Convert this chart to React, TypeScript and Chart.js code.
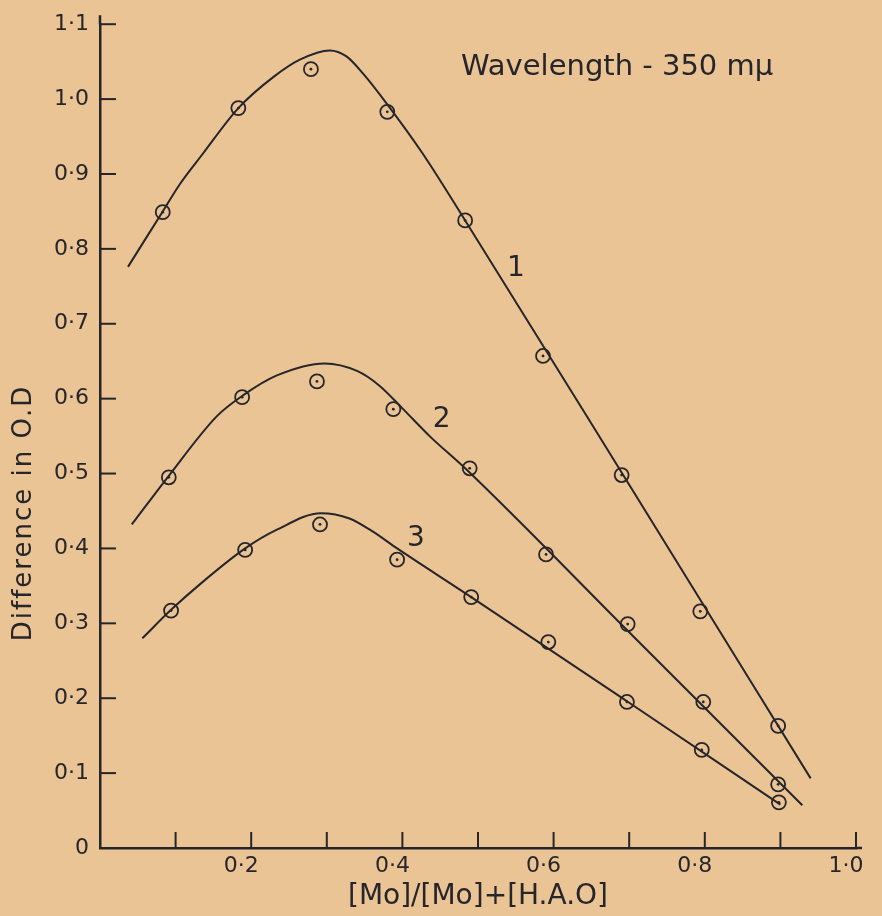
import { useEffect, useRef } from 'react';
import { Chart, registerables } from 'chart.js';

Chart.register(...registerables);

// ---- data ----
const yTickLabels = ['0', '0·1', '0·2', '0·3', '0·4', '0·5', '0·6', '0·7', '0·8', '0·9', '1·0', '1·1'];
const xTickLabels = ['0·2', '0·4', '0·6', '0·8', '1·0'];

// measured points (circles)
const pts1X = [0.083, 0.183, 0.279, 0.380, 0.483, 0.586, 0.690, 0.794, 0.897];
const pts1Y = [0.849, 0.988, 1.040, 0.983, 0.838, 0.657, 0.498, 0.316, 0.163];
const pts2X = [0.091, 0.188, 0.287, 0.388, 0.489, 0.590, 0.698, 0.798, 0.897];
const pts2Y = [0.495, 0.602, 0.623, 0.586, 0.507, 0.392, 0.299, 0.195, 0.085];
const pts3X = [0.094, 0.192, 0.291, 0.393, 0.491, 0.593, 0.697, 0.796, 0.898];
const pts3Y = [0.317, 0.398, 0.432, 0.385, 0.335, 0.275, 0.195, 0.131, 0.061];

// hand-drawn fitted curves
const fit1X = [0.037, 0.083, 0.106, 0.136, 0.183, 0.23, 0.265, 0.304, 0.326, 0.348, 0.38, 0.427, 0.483, 0.7, 0.94];
const fit1Y = [0.776, 0.85, 0.887, 0.927, 0.988, 1.03, 1.053, 1.065, 1.057, 1.034, 0.993, 0.927, 0.838, 0.485, 0.093];
const fit2X = [0.042, 0.091, 0.155, 0.19, 0.234, 0.297, 0.34, 0.37, 0.4, 0.437, 0.483, 0.7, 0.929];
const fit2Y = [0.432, 0.497, 0.577, 0.605, 0.631, 0.647, 0.637, 0.617, 0.587, 0.549, 0.507, 0.288, 0.057];
const fit3X = [0.056, 0.094, 0.132, 0.192, 0.234, 0.292, 0.33, 0.36, 0.393, 0.491, 0.7, 0.9];
const fit3Y = [0.28, 0.318, 0.352, 0.4, 0.425, 0.447, 0.44, 0.423, 0.40, 0.335, 0.194, 0.058];

// annotations (in data coordinates)
const noteTexts = ['1', '2', '3', 'Wavelength - 350 mμ'];
const noteX = [0.55, 0.452, 0.418, 0.684];
const noteY = [0.774, 0.572, 0.413, 1.042];

const xTitle = '[Mo]/[Mo]+[H.A.O]';
const yTitle = 'Difference in O.D';

const INK = '#26252a';
const PAPER = '#eac494';
const FONT = '"DejaVu Sans", sans-serif';

const toXY = (xs: number[], ys: number[]) => xs.map((x, i) => ({ x, y: ys[i] }));

const paperPlugin = {
  id: 'paper',
  beforeDraw(chart: any) {
    const { ctx, width, height } = chart;
    ctx.save();
    ctx.fillStyle = PAPER;
    ctx.fillRect(0, 0, width, height);
    ctx.restore();
  },
  afterDraw(chart: any) {
    const { ctx } = chart;
    const xs = chart.scales.x;
    const ys = chart.scales.y;
    ctx.save();
    ctx.strokeStyle = INK;
    const y0 = ys.getPixelForValue(0);
    const x0 = xs.getPixelForValue(0);
    // axis overshoot beyond last ticks
    ctx.lineWidth = 2.5;
    ctx.beginPath();
    ctx.moveTo(x0, ys.getPixelForValue(1.1));
    ctx.lineTo(x0, ys.getPixelForValue(1.1) - 9);
    ctx.moveTo(xs.getPixelForValue(1), y0);
    ctx.lineTo(xs.getPixelForValue(1) + 6, y0);
    ctx.stroke();
    // inward tick marks
    ctx.lineWidth = 2;
    for (let k = 1; k <= 10; k++) {
      const px = xs.getPixelForValue(k / 10);
      ctx.beginPath();
      ctx.moveTo(px, y0);
      ctx.lineTo(px, y0 - 16);
      ctx.stroke();
    }
    for (let k = 1; k <= 11; k++) {
      const py = ys.getPixelForValue(k / 10);
      ctx.beginPath();
      ctx.moveTo(x0, py);
      ctx.lineTo(x0 + 16, py);
      ctx.stroke();
    }
    // y title
    ctx.fillStyle = INK;
    ctx.save();
    ctx.translate(24, 513);
    ctx.rotate(-Math.PI / 2);
    ctx.textAlign = 'center';
    ctx.textBaseline = 'middle';
    ctx.font = `26px ${FONT}`;
    (ctx as any).letterSpacing = '2px';
    ctx.fillText(yTitle, 0, 0);
    ctx.restore();
    // curve labels + wavelength note
    ctx.textAlign = 'center';
    ctx.textBaseline = 'middle';
    noteTexts.forEach((t, i) => {
      ctx.font = `${i === 3 ? 29 : 28}px ${FONT}`;
      ctx.fillText(t, xs.getPixelForValue(noteX[i]), ys.getPixelForValue(noteY[i]));
    });
    ctx.restore();
  },
};

export default function App() {
  const ref = useRef<HTMLCanvasElement | null>(null);

  useEffect(() => {
    if (!ref.current) return;
    const lineDs = (xs: number[], ys: number[]) => ({
      data: toXY(xs, ys),
      showLine: true,
      borderColor: INK,
      borderWidth: 2,
      pointRadius: 0,
      cubicInterpolationMode: 'monotone' as const,
      fill: false,
    });
    const ringDs = (xs: number[], ys: number[]) => ({
      data: toXY(xs, ys),
      showLine: false,
      pointRadius: 7,
      pointBorderWidth: 1.8,
      pointBorderColor: INK,
      pointBackgroundColor: 'rgba(0,0,0,0)',
    });
    const dotDs = (xs: number[], ys: number[]) => ({
      data: toXY(xs, ys),
      showLine: false,
      pointRadius: 1.4,
      pointBorderWidth: 0,
      pointBackgroundColor: INK,
    });

    const chart = new Chart(ref.current, {
      type: 'scatter',
      data: {
        datasets: [
          lineDs(fit1X, fit1Y),
          lineDs(fit2X, fit2Y),
          lineDs(fit3X, fit3Y),
          ringDs(pts1X, pts1Y),
          ringDs(pts2X, pts2Y),
          ringDs(pts3X, pts3Y),
          dotDs(pts1X, pts1Y),
          dotDs(pts2X, pts2Y),
          dotDs(pts3X, pts3Y),
        ] as any,
      },
      options: {
        animation: false,
        responsive: false,
        layout: { padding: { top: 20, right: 26, left: 0, bottom: 0 } },
        plugins: { legend: { display: false }, tooltip: { enabled: false } },
        scales: {
          x: {
            type: 'linear',
            min: 0,
            max: 1,
            grid: { display: false, drawTicks: false },
            border: { display: true, color: INK, width: 2.5 },
            ticks: {
              stepSize: 0.1,
              autoSkip: false,
              maxRotation: 0,
              padding: 5,
              labelOffset: -10,
              color: INK,
              font: { family: FONT, size: 22 },
              callback: (v: any) => {
                const k = Math.round(Number(v) * 10);
                return k > 0 && k % 2 === 0 ? xTickLabels[k / 2 - 1] : '';
              },
            },
            title: {
              display: true,
              text: xTitle,
              color: INK,
              font: { family: FONT, size: 28 },
              padding: { top: 0, bottom: 2 },
            },
            afterFit: (s: any) => {
              s.height = 68;
            },
          },
          y: {
            type: 'linear',
            min: 0,
            max: 1.1,
            grid: { display: false, drawTicks: false },
            border: { display: true, color: INK, width: 2.5 },
            ticks: {
              stepSize: 0.1,
              autoSkip: false,
              padding: 11,
              color: INK,
              font: { family: FONT, size: 22 },
              callback: (v: any) => yTickLabels[Math.round(Number(v) * 10)] ?? '',
            },
            afterFit: (s: any) => {
              s.width = 100;
            },
          },
        },
      },
      plugins: [paperPlugin],
    });
    return () => chart.destroy();
  }, []);

  return (
    <div style={{ position: 'absolute', left: 0, top: 0, width: 882, height: 916, background: PAPER }}>
      <canvas ref={ref} width={882} height={916} style={{ display: 'block' }} />
    </div>
  );
}
